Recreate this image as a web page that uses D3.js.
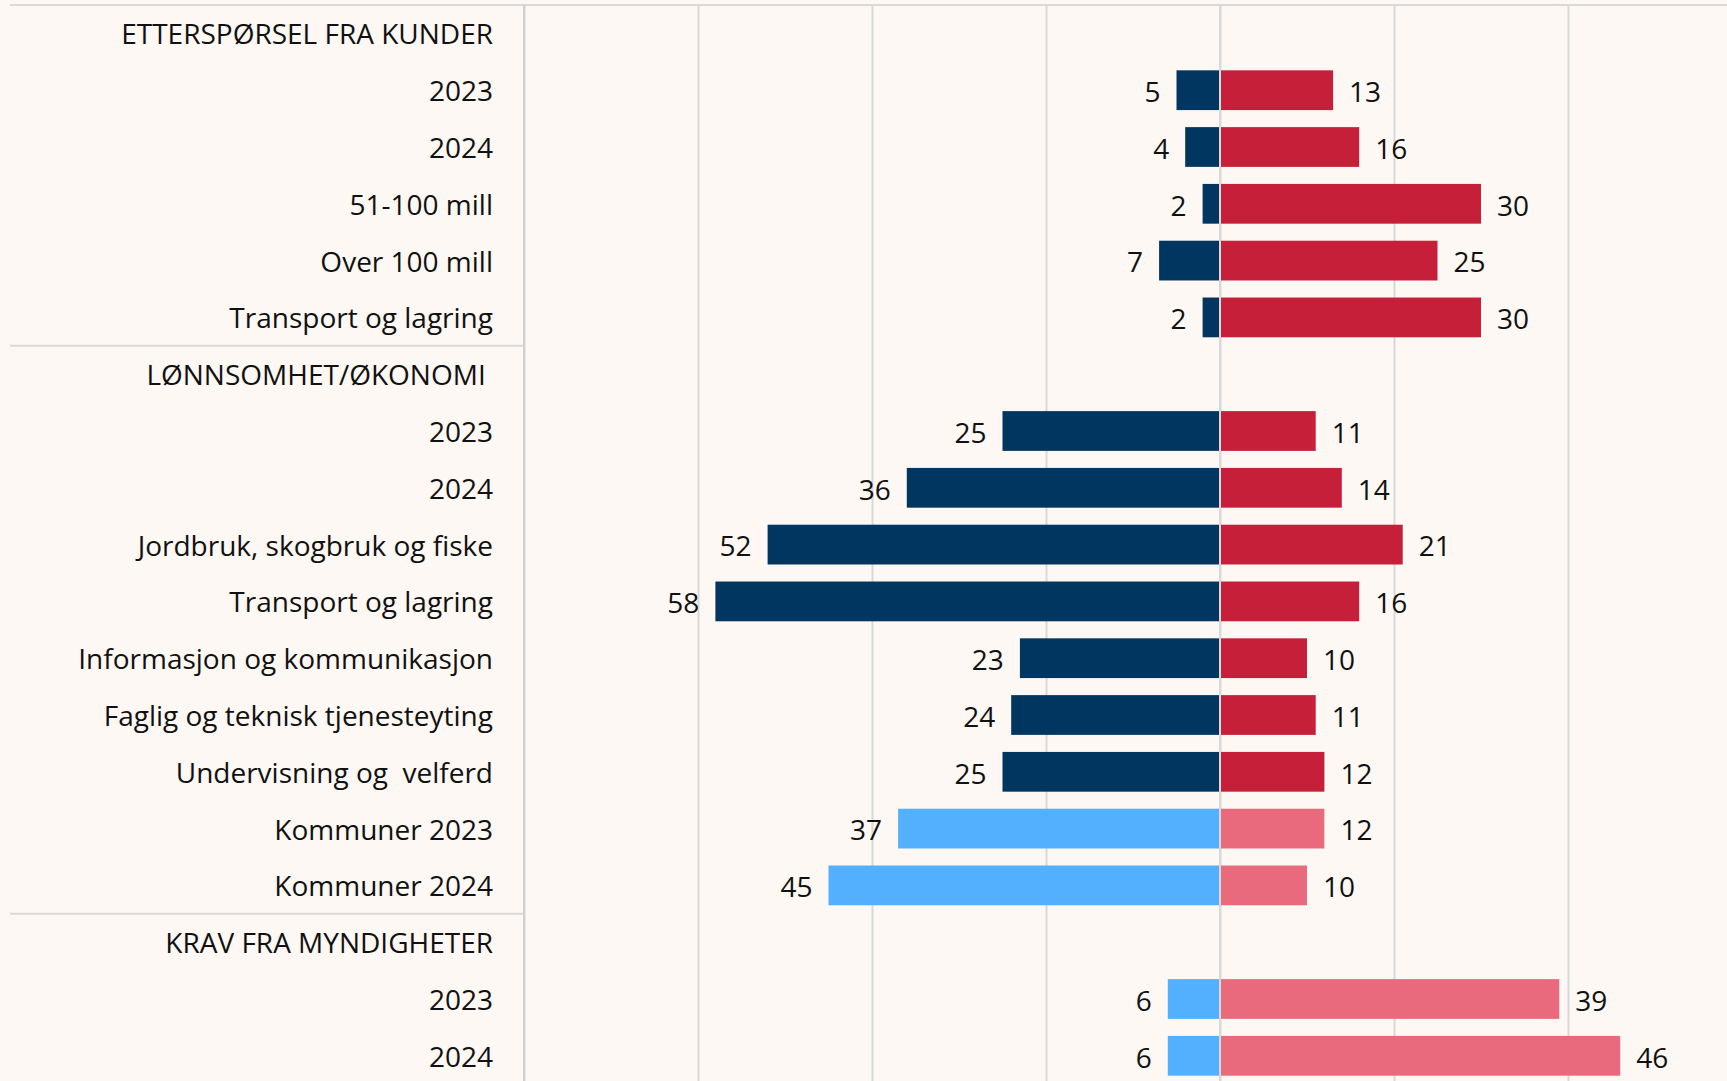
<!DOCTYPE html>
<html>
<head>
<meta charset="utf-8">
<script src="https://cdn.jsdelivr.net/npm/d3@7"></script>
<style>
  html, body { margin: 0; padding: 0; background: #fdf8f4; }
  text { font-family: "Open Sans", Lato, sans-serif; fill: #111; }
</style>
</head>
<body>
<div id="chart"></div>
<script>
// kategorier (overskriftsrader har ingen verdier)
var categories = [
    "ETTERSPØRSEL FRA KUNDER", "2023", "2024", "51-100 mill", "Over 100 mill", "Transport og lagring",
    "LØNNSOMHET/ØKONOMI ", "2023", "2024", "Jordbruk, skogbruk og fiske", "Transport og lagring",
    "Informasjon og kommunikasjon", "Faglig og teknisk tjenesteyting", "Undervisning og  velferd",
    "Kommuner 2023", "Kommuner 2024",
    "KRAV FRA MYNDIGHETER", "2023", "2024"
];
var negative = [null, 5, 4, 2, 7, 2, null, 25, 36, 52, 58, 23, 24, 25, 37, 45, null, 6, 6];
var positive = [null, 13, 16, 30, 25, 30, null, 11, 14, 21, 16, 10, 11, 12, 12, 10, null, 39, 46];
var light = [false, false, false, false, false, false, false, false, false, false, false, false, false, false, true, true, false, true, true];
var headers = [0, 6, 16];
var xTicks = [-80, -60, -40, -20, 0, 20, 40, 60];

var width = 1727, height = 1081;
var marginLeft = 524, marginTop = 5, step = 56.8;
var fontSize = 28;

var svg = d3.select("#chart").append("svg")
    .attr("width", width)
    .attr("height", height)
    .style("display", "block");

svg.append("rect").attr("width", width).attr("height", height).attr("fill", "#fdf8f4");

var x = d3.scaleLinear().domain([-80, 60]).range([marginLeft, marginLeft + 140 * 8.7]);
var y = d3.scaleBand()
    .domain(d3.range(categories.length))
    .range([marginTop, marginTop + categories.length * step])
    .paddingInner(0.3)
    .paddingOuter(0.15);

// rutenett
svg.append("g")
    .attr("class", "grid")
    .attr("transform", "translate(0," + marginTop + ")")
    .call(d3.axisBottom(x).tickValues(xTicks).tickSize(height).tickFormat(""))
    .call(function (g) { g.select(".domain").remove(); })
    .selectAll("line")
    .attr("stroke", "#d9d9d9")
    .attr("stroke-width", 2);

// skillelinjer
svg.append("line")
    .attr("x1", 10).attr("x2", width)
    .attr("y1", marginTop).attr("y2", marginTop)
    .attr("stroke", "#d9d9d9").attr("stroke-width", 2);

headers.slice(1).forEach(function (i) {
    var yy = y(i) - y.step() * y.paddingInner() / 2;
    svg.append("line")
        .attr("x1", 10).attr("x2", marginLeft)
        .attr("y1", yy).attr("y2", yy)
        .attr("stroke", "#d9d9d9").attr("stroke-width", 2);
});

svg.append("line")
    .attr("x1", marginLeft).attr("x2", marginLeft)
    .attr("y1", marginTop).attr("y2", height)
    .attr("stroke", "#d0d0d0").attr("stroke-width", 2);

var rows = d3.range(categories.length).filter(function (i) { return negative[i] !== null; });

// søyler
svg.selectAll(".neg")
    .data(rows)
    .enter()
    .append("rect")
    .attr("class", "neg")
    .attr("x", function (i) { return x(-negative[i]); })
    .attr("y", function (i) { return y(i); })
    .attr("width", function (i) { return x(0) - x(-negative[i]); })
    .attr("height", y.bandwidth())
    .attr("fill", function (i) { return light[i] ? "#52b0fe" : "#013660"; });

svg.selectAll(".pos")
    .data(rows)
    .enter()
    .append("rect")
    .attr("class", "pos")
    .attr("x", x(0))
    .attr("y", function (i) { return y(i); })
    .attr("width", function (i) { return x(positive[i]) - x(0); })
    .attr("height", y.bandwidth())
    .attr("fill", function (i) { return light[i] ? "#e96a7d" : "#c61f3a"; });

svg.append("line")
    .attr("x1", x(0)).attr("x2", x(0))
    .attr("y1", marginTop).attr("y2", height)
    .attr("stroke", "#d9d9d9").attr("stroke-width", 2);

// verdietiketter
svg.selectAll(".negLabel")
    .data(rows)
    .enter()
    .append("text")
    .attr("x", function (i) { return x(-negative[i]) - 16; })
    .attr("y", function (i) { return y(i) + y.bandwidth() / 2 + 2; })
    .attr("dy", "0.35em")
    .attr("text-anchor", "end")
    .attr("font-size", fontSize)
    .text(function (i) { return negative[i]; });

svg.selectAll(".posLabel")
    .data(rows)
    .enter()
    .append("text")
    .attr("x", function (i) { return x(positive[i]) + 16; })
    .attr("y", function (i) { return y(i) + y.bandwidth() / 2 + 2; })
    .attr("dy", "0.35em")
    .attr("text-anchor", "start")
    .attr("font-size", fontSize)
    .text(function (i) { return positive[i]; });

// kategoriakse
svg.append("g")
    .attr("transform", "translate(" + marginLeft + ",2)")
    .call(d3.axisLeft(y).tickSize(0).tickPadding(31).tickFormat(function (i) { return categories[i]; }))
    .call(function (g) { g.select(".domain").remove(); })
    .selectAll("text")
    .attr("font-size", fontSize)
    .attr("font-family", "'Open Sans', Lato, sans-serif")
    .attr("fill", "#111")
    .style("white-space", "pre");
</script>
</body>
</html>
